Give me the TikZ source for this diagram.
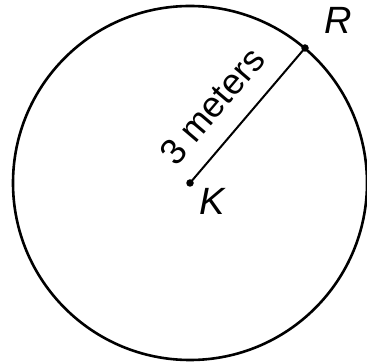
\documentclass[tikz,border=0pt]{standalone}
\usepackage{fontspec}
\setmainfont{Liberation Sans}
\begin{document}
\begin{tikzpicture}[x=1pt,y=1pt,
  rim/.style={line width=2.6pt, draw=black},
  radius line/.style={line width=2pt, draw=black},
  dotmark/.style={circle, fill=black, inner sep=0pt, minimum size=7.5pt},
  ptlabel/.style={font=\fontsize{38}{38}\selectfont\itshape, inner sep=0pt},
  lenlabel/.style={font=\fontsize{36}{36}\selectfont, inner sep=0pt}]
\useasboundingbox (0,0) rectangle (367,364);
\coordinate (Kc) at (190,181);
\draw[rim] (Kc) circle (177);
\node[dotmark] (K) at (Kc) {};
\node[dotmark] (R) at (305,316) {};
\draw[radius line] (K.center) -- (R.center);
\node[ptlabel] (Klab) at (212,163) {K};
\node[ptlabel] (Rlab) at (338,344) {R};
\node[lenlabel, rotate=49.6] (len) at (212,258) {3 meters};
\end{tikzpicture}
\end{document}
